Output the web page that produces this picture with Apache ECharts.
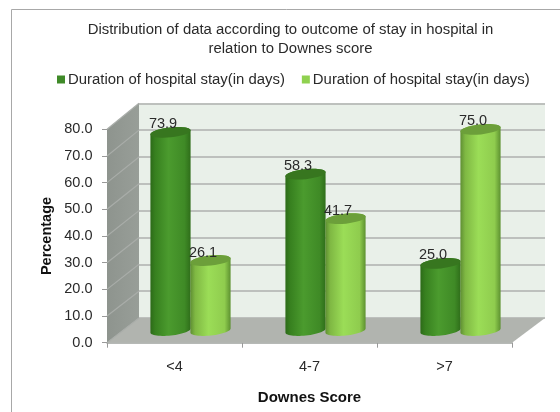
<!DOCTYPE html>
<html>
<head>
<meta charset="utf-8">
<style>html,body{margin:0;padding:0;background:#fff}#chart{width:560px;height:412px}</style>
<script src="https://cdn.jsdelivr.net/npm/echarts@6/dist/echarts.min.js"></script>
</head>
<body>
<div id="chart"></div>
<script>
// Downes score groups and the share of patients in each outcome group
const categories = ['<4', '4-7', '>7'];
const firstSeries = [73.9, 58.3, 25.0];
const secondSeries = [26.1, 41.7, 75.0];
const valueTicks = [0, 10, 20, 30, 40, 50, 60, 70, 80];
const seriesLabel = 'Duration of hospital stay(in days)';

// Three parallel planes give the box its depth: front edge, mid-depth for the cylinders, back wall
const front = { left: 107, top: 129.3, width: 405, height: 213.4 };
const back = { left: 139, top: 103.3, width: 406, height: 214.7 };
const mid = { left: 123, top: 116, width: 405, height: 214.5 };
const AXIS_MAX = 80;
const TILT = 6 * Math.PI / 180;
const TEXT_COLOR = '#2a2a2a';

const backY = v => back.top + back.height * (1 - v / AXIS_MAX);

// Ellipse outline points for the cylinder's caps, slightly tilted
function arcPoints(cx, cy, rx, ry, from, to) {
  const pts = [];
  const n = 28;
  for (let i = 0; i <= n; i++) {
    const a = from + (to - from) * i / n;
    const x = rx * Math.cos(a), y = ry * Math.sin(a);
    pts.push([cx + x * Math.cos(TILT) + y * Math.sin(TILT), cy - x * Math.sin(TILT) + y * Math.cos(TILT)]);
  }
  return pts;
}

function hGradient(stops) {
  return new echarts.graphic.LinearGradient(0, 0, 1, 0,
    stops.map(c => ({ offset: c[0], color: c[1] })));
}

function cylinderSeries(name, values, side, colors) {
  return {
    name: name,
    type: 'custom',
    xAxisIndex: 2,
    yAxisIndex: 2,
    z: 5,
    clip: false,
    itemStyle: { color: colors.legend },
    data: values.map((v, i) => [i, v]),
    renderItem(params, api) {
      const top = api.coord([api.value(0), api.value(1)]);
      const base = api.coord([api.value(0), 0]);
      const rx = 20.2, ry = 5;
      const cx = base[0] + side * 20;
      const lower = arcPoints(cx, base[1], rx, ry, 0, Math.PI);
      const upper = arcPoints(cx, top[1], rx, ry, Math.PI, 2 * Math.PI);
      return {
        type: 'group',
        children: [
          { type: 'polygon', shape: { points: lower.concat(upper) },
            style: { fill: hGradient(colors.body) } },
          { type: 'ellipse',
            shape: { cx: cx, cy: top[1], rx: rx, ry: ry },
            rotation: TILT, originX: cx, originY: top[1],
            style: { fill: colors.cap } },
          { type: 'text', z2: 10,
            style: { text: api.value(1).toFixed(1), x: cx - 7.5, y: top[1] - 8,
              align: 'center', verticalAlign: 'middle',
              font: '14.5px "Liberation Sans", Arial, sans-serif', fill: TEXT_COLOR } }
        ]
      };
    }
  };
}

const option = {
  animation: false,
  backgroundColor: '#fff',
  textStyle: { fontFamily: '"Liberation Sans", Arial, sans-serif' },
  title: {
    text: 'Distribution of data according to outcome of stay in hospital in\nrelation to Downes score',
    left: 285.5, top: 16, textAlign: 'center',
    textStyle: { fontSize: 14.9, fontWeight: 'normal', color: TEXT_COLOR, lineHeight: 18.5 }
  },
  legend: {
    left: 52, top: 67, itemWidth: 8, itemHeight: 8, itemGap: 17,
    icon: 'rect', selectedMode: false,
    textStyle: { fontSize: 14.9, color: TEXT_COLOR, padding: [0, 0, 0, -2] }
  },
  grid: [
    { ...front, containLabel: false },
    { ...back, show: true, backgroundColor: '#e9f0e9', borderWidth: 0 },
    { ...mid }
  ],
  xAxis: [
    { gridIndex: 0, type: 'category', data: categories, name: 'Downes Score',
      nameLocation: 'middle', nameGap: 48,
      nameTextStyle: { fontSize: 15, fontWeight: 'bold', color: '#111' },
      axisLine: { lineStyle: { color: '#9fa29f', width: 1.5 } },
      axisTick: { show: true, alignWithLabel: false, length: 5, lineStyle: { color: '#999' } },
      axisLabel: { fontSize: 14.5, color: TEXT_COLOR, margin: 17 } },
    { gridIndex: 1, type: 'category', data: categories, show: false },
    { gridIndex: 2, type: 'category', data: categories, show: false }
  ],
  yAxis: [
    { gridIndex: 0, type: 'value', min: 0, max: AXIS_MAX, interval: 10, name: 'Percentage',
      nameLocation: 'middle', nameGap: 53, nameRotate: 90, nameMoveOverlap: false,
      nameTextStyle: { fontSize: 14.5, fontWeight: 'bold', color: '#111' },
      axisLine: { show: false },
      axisTick: { show: true, length: 5, lineStyle: { color: '#999' } },
      splitLine: { show: false },
      axisLabel: { fontSize: 14.5, color: TEXT_COLOR, margin: 14.5, formatter: v => v.toFixed(1) } },
    { gridIndex: 1, type: 'value', min: 0, max: AXIS_MAX, interval: 10,
      axisLine: { show: false }, axisTick: { show: false }, axisLabel: { show: false },
      splitLine: { show: true, lineStyle: { color: '#aeb1ae', width: 1.5 } } },
    { gridIndex: 2, type: 'value', min: 0, max: AXIS_MAX, interval: 10, show: false,
      splitLine: { show: false } }
  ],
  series: [
    // Side wall and floor, drawn from the front plane's axis back to the rear plane
    {
      type: 'custom', xAxisIndex: 0, yAxisIndex: 0, z: 1, silent: true, clip: false,
      data: [[0, 0]],
      renderItem(params, api) {
        const cs = params.coordSys;
        const y0 = api.coord([0, 0])[1];
        const yMax = api.coord([0, AXIS_MAX])[1];
        const bx = back.left, brx = back.left + back.width;
        return {
          type: 'group',
          children: [
            { type: 'polygon',
              shape: { points: [[cs.x, y0], [cs.x, yMax], [bx, backY(AXIS_MAX)], [bx, backY(0)]] },
              style: { fill: hGradient([[0, '#8e948e'], [1, '#989e98']]) } },
            { type: 'polygon',
              shape: { points: [[cs.x, y0], [cs.x + cs.width, y0], [brx, backY(0)], [bx, backY(0)]] },
              style: { fill: '#b1b4af' } }
          ]
        };
      }
    },
    // Tick lines carried across the side wall
    {
      type: 'custom', xAxisIndex: 0, yAxisIndex: 0, z: 2, silent: true, clip: false,
      data: valueTicks.map(v => [0, v]),
      renderItem(params, api) {
        const v = api.value(1);
        const y = api.coord([0, v])[1];
        return { type: 'line',
          shape: { x1: params.coordSys.x, y1: y, x2: back.left, y2: backY(v) },
          style: { stroke: '#a9ada9', lineWidth: 1.2 } };
      }
    },
    cylinderSeries(seriesLabel, firstSeries, -1, {
      legend: '#3f8a28',
      cap: '#37761f',
      body: [[0, '#2c6a18'], [0.12, '#37801f'], [0.45, '#4b9b2e'], [0.85, '#3f8a26'], [1, '#2f6e1a']]
    }),
    // The trailing space keeps a second legend entry under the same visible wording
    cylinderSeries(seriesLabel + ' ', secondSeries, 1, {
      legend: '#8fd14f',
      cap: '#6c9f3a',
      body: [[0, '#5f8f33'], [0.12, '#7fb843'], [0.45, '#9bdd57'], [0.85, '#8fcc4e'], [1, '#5d9130']]
    })
  ],
  graphic: [
    // Chart frame running off the page on the right and bottom
    { type: 'rect', silent: true, z: 0,
      shape: { x: 11.5, y: 9.5, width: 600, height: 500 },
      style: { fill: 'none', stroke: '#a8a8a8', lineWidth: 1 } }
  ]
};

const chart = echarts.init(document.getElementById('chart'), null, { renderer: 'canvas' });
chart.setOption(option);
</script>
</body>
</html>
